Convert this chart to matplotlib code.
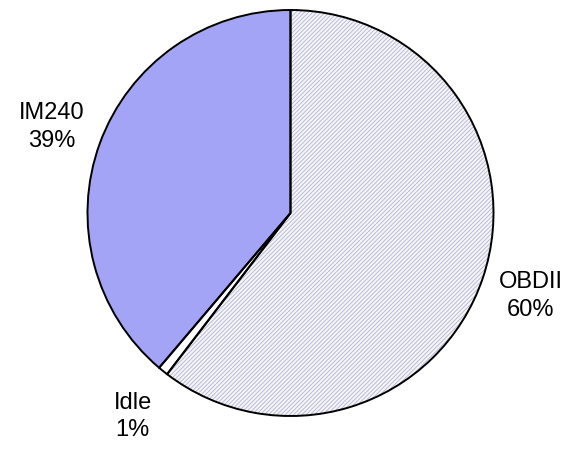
import matplotlib.pyplot as plt

labels = ["OBDII", "Idle", "IM240"]
shares = [60.4, 0.8, 38.8]
colors = ["#f6f6ee", "white", "#a4a4f6"]

fig = plt.figure(figsize=(5.73, 4.52), dpi=100)
ax = fig.add_axes([0, 0, 1, 1])

center = (290.5, 238)
radius = 203

plt.rcParams["hatch.linewidth"] = 0.6

# fill layer: hatch on the OBDII slice, no outlines
wedges, _ = ax.pie(shares, colors=colors, startangle=90, counterclock=False,
                   center=center, radius=radius, frame=True,
                   wedgeprops=dict(linewidth=0))
wedges[0].set_hatch("////////")
wedges[0].set_edgecolor("#b0b0e6")

# outline layer
ax.pie(shares, colors=["none"] * 3, startangle=90, counterclock=False,
       center=center, radius=radius, frame=True,
       wedgeprops=dict(linewidth=1.4, edgecolor="black"))
ax.set_xlim(0, 573)
ax.set_ylim(0, 452)
ax.set_aspect("equal")
ax.axis("off")

label_pos = {"OBDII": (531, 156), "Idle": (132.5, 35.5), "IM240": (51.5, 325)}
for name, val in zip(labels, shares):
    x, y = label_pos[name]
    ax.text(x, y, f"{name}\n{val:.0f}%", ha="center", va="center",
            fontsize=17, family="Liberation Sans", linespacing=1.3)

fig.savefig("out.png", dpi=100)
